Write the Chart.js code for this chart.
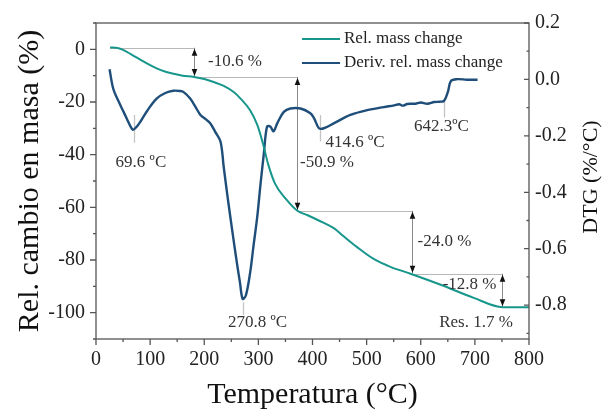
<!DOCTYPE html>
<html><head><meta charset="utf-8">
<script src="https://cdn.jsdelivr.net/npm/chart.js@4"></script>
<style>html,body{margin:0;padding:0;background:#fff}canvas{display:block}</style>
</head><body>
<canvas id="c" width="605" height="411"></canvas>
<script>
// ---- data ----
const tgTemp = [26, 40, 50, 65, 81, 100, 112, 130, 143, 160, 181, 200, 220, 236, 255, 267, 285, 298, 309, 318, 331, 350, 372, 391, 420, 440, 457, 483, 513, 544, 581, 637, 698, 751, 800];
const tgMass = [0.7, 0.5, -0.2, -1.9, -3.8, -6.0, -7.2, -8.6, -9.3, -10.0, -10.5, -11.3, -12.6, -13.9, -16.3, -18.7, -23.2, -28.7, -36.2, -43.6, -51.1, -56.6, -61.3, -63.0, -65.8, -68.0, -70.9, -75.2, -79.6, -82.6, -85.2, -89.4, -94.4, -97.9, -97.9];

const dtgTemp = [25, 32, 41, 51, 60, 68, 75, 82, 95, 112, 128, 143, 155, 162, 174, 184, 193, 202, 211, 220, 230, 236, 242, 248, 255, 261, 266, 271, 277, 285, 291, 298, 304, 310, 316, 322, 328, 335, 347, 359, 378, 396, 403, 412, 421, 440, 470, 501, 532, 551, 560, 567, 575, 590, 600, 612, 625, 635, 643, 650, 656, 668, 685, 705];
const dtgRate = [0.036, -0.034, -0.075, -0.115, -0.152, -0.178, -0.168, -0.150, -0.110, -0.068, -0.048, -0.040, -0.041, -0.045, -0.068, -0.098, -0.126, -0.140, -0.155, -0.185, -0.220, -0.311, -0.400, -0.485, -0.580, -0.659, -0.720, -0.778, -0.765, -0.682, -0.590, -0.485, -0.370, -0.265, -0.167, -0.167, -0.184, -0.155, -0.115, -0.103, -0.103, -0.120, -0.138, -0.173, -0.173, -0.155, -0.126, -0.109, -0.098, -0.092, -0.088, -0.093, -0.087, -0.086, -0.082, -0.086, -0.080, -0.079, -0.076, -0.045, -0.005, 0.001, -0.001, -0.001];

const xTicks = [0, 100, 200, 300, 400, 500, 600, 700, 800];
const massTicks = [0, -20, -40, -60, -80, -100];
const dtgTicks = [0.2, 0.0, -0.2, -0.4, -0.6, -0.8];

// mass-loss steps
const stepTemps = [181, 372, 584, 751];
const stepLevels = [0.6, -10.5, -61.3, -85.2, -97.9];
const stepLabels = ['-10.6 %', '-50.9 %', '-24.0 %', '-12.8 %'];
const residueLabel = 'Res. 1.7 %';
// DTG peaks
const peakTemps = [69.6, 270.8, 414.6, 642.3];
const peakLabels = ['69.6 ºC', '270.8 ºC', '414.6 ºC', '642.3ºC'];

// ---- annotation placement (data coordinates) ----
const stepLabelPos = [
  {x: 207, y: -4.6, align: 'left'},
  {x: 377, y: -42.9, align: 'left'},
  {x: 594, y: -73.0, align: 'left'},
  {x: 740, y: -89.2, align: 'right'}
];
const residuePos = {x: 702, y: -103.6, align: 'center'};
const peakMarks = [[-0.126, -0.224], [-0.79, -0.835], [-0.126, -0.22], [-0.08, -0.135]];
const peakLabelPos = [
  {x: 83, y: -0.293, align: 'center'},
  {x: 244, y: -0.862, align: 'left'},
  {x: 424, y: -0.224, align: 'left'},
  {x: 638, y: -0.168, align: 'center'}
];

const TEAL = '#17968c';
const NAVY = '#1e4e79';
const SERIF = '"Liberation Serif", "Times New Roman", serif';

function arrowHead(ctx, x, y, dir) {
  ctx.beginPath();
  ctx.moveTo(x, y);
  ctx.lineTo(x - 2.8, y - dir * 7);
  ctx.lineTo(x + 2.8, y - dir * 7);
  ctx.closePath();
  ctx.fill();
}

const annotations = {
  id: 'annotations',
  beforeDatasetsDraw(chart) {
    const {ctx, scales: {x, y, y1}} = chart;
    ctx.save();
    ctx.lineWidth = 1;
    ctx.strokeStyle = '#b8b8b8';
    ctx.beginPath();
    for (let i = 0; i < stepTemps.length; i++) {
      const x0 = i === 0 ? tgTemp[0] : stepTemps[i - 1];
      const py = Math.round(y.getPixelForValue(stepLevels[i])) + 0.5;
      ctx.moveTo(x.getPixelForValue(x0), py);
      ctx.lineTo(x.getPixelForValue(stepTemps[i]), py);
    }
    ctx.stroke();
    ctx.strokeStyle = '#8a8a8a';
    ctx.beginPath();
    for (let i = 0; i < stepTemps.length; i++) {
      const px = Math.round(x.getPixelForValue(stepTemps[i])) + 0.5;
      ctx.moveTo(px, y.getPixelForValue(stepLevels[i]));
      ctx.lineTo(px, y.getPixelForValue(stepLevels[i + 1]));
    }
    ctx.stroke();
    ctx.strokeStyle = '#c4c4c4';
    ctx.lineWidth = 1.3;
    ctx.beginPath();
    for (let i = 0; i < peakTemps.length; i++) {
      const px = Math.round(x.getPixelForValue(peakTemps[i])) + 0.5;
      ctx.moveTo(px, y1.getPixelForValue(peakMarks[i][0]));
      ctx.lineTo(px, y1.getPixelForValue(peakMarks[i][1]));
    }
    ctx.stroke();
    ctx.restore();
  },
  afterDatasetsDraw(chart) {
    const {ctx, scales: {x, y, y1}} = chart;
    ctx.save();
    ctx.fillStyle = '#111';
    for (let i = 0; i < stepTemps.length; i++) {
      const px = Math.round(x.getPixelForValue(stepTemps[i])) + 0.5;
      arrowHead(ctx, px, y.getPixelForValue(stepLevels[i]) + 1, -1);
      arrowHead(ctx, px, y.getPixelForValue(stepLevels[i + 1]) - 1, 1);
    }
    ctx.font = '17px ' + SERIF;
    ctx.fillStyle = '#333';
    ctx.textBaseline = 'middle';
    stepLabels.forEach((t, i) => {
      const p = stepLabelPos[i];
      ctx.textAlign = p.align;
      ctx.fillText(t, x.getPixelForValue(p.x), y.getPixelForValue(p.y));
    });
    ctx.textAlign = residuePos.align;
    ctx.fillText(residueLabel, x.getPixelForValue(residuePos.x), y.getPixelForValue(residuePos.y));
    peakLabels.forEach((t, i) => {
      const p = peakLabelPos[i];
      ctx.textAlign = p.align;
      ctx.fillText(t, x.getPixelForValue(p.x), y1.getPixelForValue(p.y));
    });
    ctx.restore();
  }
};

const frame = {
  id: 'frame',
  afterDraw(chart) {
    const {ctx, chartArea: a, scales: {x, y, y1}} = chart;
    ctx.save();
    ctx.strokeStyle = '#555';
    ctx.lineWidth = 1.3;
    ctx.strokeRect(a.left, a.top, a.right - a.left, a.bottom - a.top);
    ctx.beginPath();
    for (let v = x.min; v <= x.max; v += 50) {
      const p = x.getPixelForValue(v), L = xTicks.includes(v) ? 6 : 3;
      ctx.moveTo(p, a.bottom); ctx.lineTo(p, a.bottom + L);
    }
    for (let v = -110; v <= 10; v += 10) {
      const p = y.getPixelForValue(v), L = massTicks.includes(v) ? 6 : 3;
      ctx.moveTo(a.left - L, p); ctx.lineTo(a.left, p);
    }
    for (let k = -9; k <= 2; k++) {
      const p = y1.getPixelForValue(k / 10), L = (k % 2 === 0) ? 5 : 2.5;
      ctx.moveTo(a.right - L, p); ctx.lineTo(a.right, p);
    }
    ctx.stroke();
    ctx.fillStyle = '#111';
    ctx.font = '22px ' + SERIF;
    ctx.textAlign = 'center';
    ctx.textBaseline = 'middle';
    ctx.translate(591.5, (a.top + a.bottom) / 2 - 4);
    ctx.rotate(-Math.PI / 2);
    ctx.fillText('DTG (%/°C)', 0, 0);
    ctx.restore();
    ctx.save();
    const ds = chart.data.datasets;
    ctx.font = '17px ' + SERIF;
    ctx.textBaseline = 'middle';
    ctx.textAlign = 'left';
    ds.forEach((d, i) => {
      const ly = a.top + 16 + i * 24;
      ctx.strokeStyle = d.borderColor;
      ctx.lineWidth = 2.2;
      ctx.beginPath(); ctx.moveTo(302, ly); ctx.lineTo(340, ly); ctx.stroke();
      ctx.fillStyle = '#222';
      ctx.fillText(d.label, 344, ly);
    });
    ctx.restore();
  }
};

const tickFont = {family: SERIF, size: 20};

new Chart(document.getElementById('c'), {
  type: 'line',
  data: {
    datasets: [
      {label: 'Rel. mass change', data: tgTemp.map((t, i) => ({x: t, y: tgMass[i]})), yAxisID: 'y',
       borderColor: TEAL, borderWidth: 2, cubicInterpolationMode: 'monotone', pointRadius: 0, fill: false},
      {label: 'Deriv. rel. mass change', data: dtgTemp.map((t, i) => ({x: t, y: dtgRate[i]})), yAxisID: 'y1',
       borderColor: NAVY, borderWidth: 2.4, tension: 0.35, pointRadius: 0, fill: false}
    ]
  },
  options: {
    responsive: false, animation: false, devicePixelRatio: 1,
    layout: {padding: {top: 16, left: 0, right: 0, bottom: 0}},
    plugins: {legend: {display: false}, tooltip: {enabled: false}},
    scales: {
      x: {
        type: 'linear', position: 'bottom', min: 0, max: 800,
        afterBuildTicks: s => { s.ticks = xTicks.map(v => ({value: v})); },
        afterFit: s => { s.height = 72; },
        grid: {display: false, drawTicks: false}, border: {display: false},
        ticks: {padding: 9, font: tickFont, color: '#222', maxRotation: 0, autoSkip: false, callback: v => String(v)},
        title: {display: true, text: 'Temperatura (°C)', color: '#111', font: {family: SERIF, size: 30, lineHeight: 1.0}, padding: {top: 0, bottom: 1}}
      },
      y: {
        type: 'linear', position: 'left', min: -110, max: 10,
        afterBuildTicks: s => { s.ticks = massTicks.map(v => ({value: v})); },
        afterFit: s => { s.width = 96; },
        grid: {display: false, drawTicks: false}, border: {display: false},
        ticks: {padding: 11, font: tickFont, color: '#222', callback: v => String(v)},
        title: {display: true, text: 'Rel. cambio en masa (%)', color: '#111', font: {family: SERIF, size: 30, lineHeight: 1.2}, padding: {top: 12, bottom: 0}}
      },
      y1: {
        type: 'linear', position: 'right', min: -0.92, max: 0.2,
        afterBuildTicks: s => { s.ticks = dtgTicks.map(v => ({value: v})); },
        afterFit: s => { s.width = 76; },
        grid: {display: false, drawTicks: false}, border: {display: false},
        ticks: {padding: 6, font: tickFont, color: '#222', callback: v => Number(v).toFixed(1)},
        title: {display: false}
      }
    }
  },
  plugins: [annotations, frame]
});
</script>
</body></html>
